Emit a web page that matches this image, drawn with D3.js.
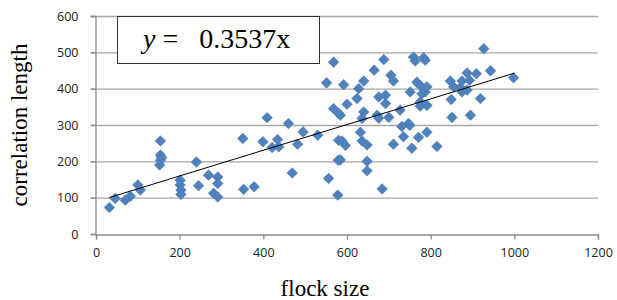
<!DOCTYPE html>
<html>
<head>
<meta charset="utf-8">
<script src="https://cdn.jsdelivr.net/npm/d3@7"></script>
<style>
  body { margin: 0; background: #fff; }
  svg { display: block; }
</style>
</head>
<body>
<div id="chart"></div>
<script>
const width = 617;
const height = 300;

// data: [flock size, correlation length]
const points = [
  [32,73],[46,98],[70,93],[82,104],[100,135],[106,121],
  [154,256],[154,217],[154,203],[152,190],[157,210],
  [201,148],[201,135],[203,121],[203,109],
  [240,198],[245,133],[269,162],[281,112],[291,102],[291,157],[291,139],
  [351,263],[353,123],[378,130],
  [399,254],[409,320],[421,238],[434,260],[437,240],[460,304],[469,168],[482,247],[495,281],[530,272],
  [551,416],[556,153],[568,473],[568,345],[578,107],[579,203],[580,332],[580,258],
  [584,327],[584,204],[588,256],[592,411],[596,244],[600,357],
  [624,373],[628,400],[632,280],[636,256],[636,318],[640,421],[640,336],[648,245],[648,200],[648,174],
  [665,451],[672,327],[676,377],[676,319],[684,124],[688,480],[692,382],[692,359],[700,321],[705,437],[711,421],[711,247],
  [727,341],[731,296],[735,268],[747,304],[750,299],[751,391],[755,236],[759,487],[763,476],[767,418],[771,266],[775,409],[775,352],[775,363],
  [783,485],[787,478],[787,391],[791,354],[791,280],[791,405],[779,386],[815,241],
  [847,421],[849,370],[851,321],[855,405],[871,403],[875,421],[875,391],[887,443],[887,396],[893,423],[895,327],
  [909,441],[919,373],[927,510],[943,449],[998,430]
];

const xTicks = [0, 200, 400, 600, 800, 1000, 1200];
const yTicks = [0, 100, 200, 300, 400, 500, 600];

// trend line drawn in the picture
const trendX = [32, 1000];
const slope = 0.3537;
const intercept = 89;
const equation = "0.3537x";

const margin = { left: 96, right: 19, top: 16, bottom: 66 };

const svg = d3.select("#chart").append("svg")
    .attr("width", width)
    .attr("height", height);

const x = d3.scaleLinear().domain([0, 1200]).range([margin.left, width - margin.right]);
const y = d3.scaleLinear().domain([0, 600]).range([height - margin.bottom, margin.top]);

// gridlines
svg.append("g")
    .selectAll("line")
    .data(yTicks.filter(d => d > 0))
    .enter().append("line")
    .attr("x1", x(0) - 5)
    .attr("x2", x(1200))
    .attr("y1", d => y(d) + 0.5)
    .attr("y2", d => y(d) + 0.5)
    .attr("stroke", "#a6a6a6")
    .attr("stroke-width", 1.3);

// axes
const xAxis = svg.append("g")
    .attr("transform", `translate(0,${y(0) + 0.5})`)
    .call(d3.axisBottom(x).tickValues(xTicks).tickSize(5).tickPadding(9).tickFormat(d3.format("d")));

const yAxis = svg.append("g")
    .attr("transform", `translate(${x(0) - 0.5},0)`)
    .call(d3.axisLeft(y).tickValues(yTicks).tickSize(5).tickPadding(12).tickFormat(d3.format("d")));

[xAxis, yAxis].forEach(a => {
    a.select(".domain").attr("stroke", "#8c8c8c").attr("stroke-width", 1.3);
    a.selectAll(".tick line").attr("stroke", "#8c8c8c").attr("stroke-width", 1.3);
    a.selectAll(".tick text")
        .attr("fill", "#222")
        .style("font-family", "'Open Sans', 'Liberation Sans', sans-serif")
        .style("font-size", "12.5px");
});

// points (rotated squares)
const diamond = d3.symbol().type(d3.symbolSquare).size(56);
svg.append("g")
    .selectAll("path")
    .data(points)
    .enter().append("path")
    .attr("d", diamond)
    .attr("transform", d => `translate(${x(d[0])},${y(d[1])}) rotate(45)`)
    .attr("fill", "#4f81bd")
    .attr("stroke", "#4a7ab4")
    .attr("stroke-width", 0.6);

// trend line
const line = d3.line().x(d => x(d)).y(d => y(slope * d + intercept));
svg.append("path")
    .datum(trendX)
    .attr("d", line)
    .attr("fill", "none")
    .attr("stroke", "#000")
    .attr("stroke-width", 1);

// equation box
svg.append("rect")
    .attr("x", 117.5)
    .attr("y", 16.5)
    .attr("width", 202)
    .attr("height", 47)
    .attr("fill", "#fff")
    .attr("stroke", "#333")
    .attr("stroke-width", 1);

const eq = svg.append("text")
    .attr("x", 143)
    .attr("y", 48)
    .style("font-family", "'Liberation Serif', 'DejaVu Serif', serif")
    .style("font-size", "28px")
    .style("white-space", "pre")
    .attr("fill", "#000");
eq.append("tspan").style("font-style", "italic").text("y");
eq.append("tspan").text(" =   " + equation);

// axis titles
svg.append("text")
    .attr("x", (x(0) + x(1200)) / 2 - 22)
    .attr("y", 296)
    .attr("text-anchor", "middle")
    .style("font-family", "'Liberation Serif', serif")
    .style("font-size", "23px")
    .text("flock size");

svg.append("text")
    .attr("transform", `translate(27,${(y(0) + y(600)) / 2}) rotate(-90)`)
    .attr("text-anchor", "middle")
    .style("font-family", "'Liberation Serif', serif")
    .style("font-size", "23px")
    .text("correlation length");
</script>
</body>
</html>
